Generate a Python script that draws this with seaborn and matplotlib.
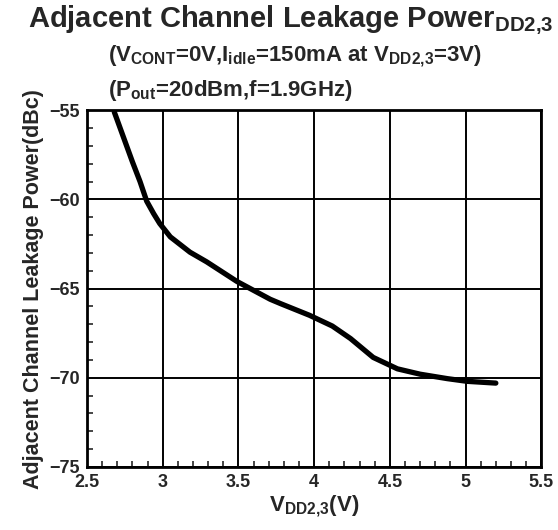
import matplotlib
matplotlib.use('Agg')
import matplotlib.pyplot as plt
from matplotlib.ticker import MultipleLocator
import seaborn as sns
import pandas as pd

# Data
vdd = [2.68, 2.74, 2.80, 2.85, 2.894, 2.94, 2.98, 3.05, 3.18, 3.29, 3.49, 3.71,
       3.78, 3.97, 4.12, 4.24, 4.39, 4.55, 4.70, 4.88, 5.01, 5.20]
aclr = [-55.1, -56.5, -57.9, -59.0, -60.1, -60.8, -61.35, -62.1, -62.96, -63.5,
        -64.6, -65.6, -65.85, -66.5, -67.1, -67.8, -68.86, -69.5, -69.8, -70.05,
        -70.2, -70.3]

x_ticks = [2.5, 3, 3.5, 4, 4.5, 5, 5.5]
y_ticks = [-75, -70, -65, -60, -55]

df = pd.DataFrame({'vdd': vdd, 'aclr': aclr})

sns.set_style('ticks')
plt.rcParams['font.family'] = ['Liberation Sans', 'DejaVu Sans']
plt.rcParams['font.weight'] = 'bold'
plt.rcParams['mathtext.fontset'] = 'custom'
plt.rcParams['mathtext.rm'] = 'Liberation Sans:bold'
plt.rcParams['mathtext.bf'] = 'Liberation Sans:bold'
plt.rcParams['mathtext.it'] = 'Liberation Sans:bold'
plt.rcParams['axes.unicode_minus'] = True

fig = plt.figure(figsize=(5.58, 5.30), dpi=100)
ax = fig.add_axes([0.156, 0.119, 0.814, 0.673])

sns.lineplot(data=df, x='vdd', y='aclr', ax=ax, color='black', linewidth=3.8,
             sort=False, estimator=None)

ax.set_xlim(2.5, 5.5)
ax.set_ylim(-75, -55)
ax.set_xticks(x_ticks)
ax.set_xticklabels([f'{t:g}' for t in x_ticks])
ax.set_yticks(y_ticks)
ax.set_yticklabels([f'\u2212{abs(t)}' for t in y_ticks])
ax.xaxis.set_minor_locator(MultipleLocator(0.1))
ax.yaxis.set_minor_locator(MultipleLocator(1))
ax.tick_params(axis='both', which='major', direction='in', length=0,
               labelsize=13, pad=5)
ax.tick_params(axis='both', which='minor', direction='in', length=4, width=1.2)
for lab in ax.get_xticklabels() + ax.get_yticklabels():
    lab.set_fontweight('bold')

ax.grid(True, which='major', color='black', linewidth=1.4)
for s in ax.spines.values():
    s.set_visible(True)
    s.set_linewidth(2)
    s.set_color('black')

ax.set_xlabel(r'V$_{\mathrm{DD2{,}3}}$(V)', fontsize=16, fontweight='bold', labelpad=2)
ax.set_ylabel('Adjacent Channel Leakage Power(dBc)', fontsize=15.5,
              fontweight='bold', labelpad=4)

fig.text(0.05, 0.962, r'Adjacent Channel Leakage Power$_{\mathrm{DD2{,}3}}$',
         ha='left', va='center', fontsize=21, fontweight='bold')
fig.text(0.193, 0.895,
         r'(V$_{\mathrm{CONT}}$=0V,I$_{\mathrm{idle}}$=150mA at V$_{\mathrm{DD2{,}3}}$=3V)',
         ha='left', va='center', fontsize=16, fontweight='bold')
fig.text(0.193, 0.83, r'(P$_{\mathrm{out}}$=20dBm,f=1.9GHz)',
         ha='left', va='center', fontsize=16, fontweight='bold')

fig.savefig('out.png', dpi=100)
